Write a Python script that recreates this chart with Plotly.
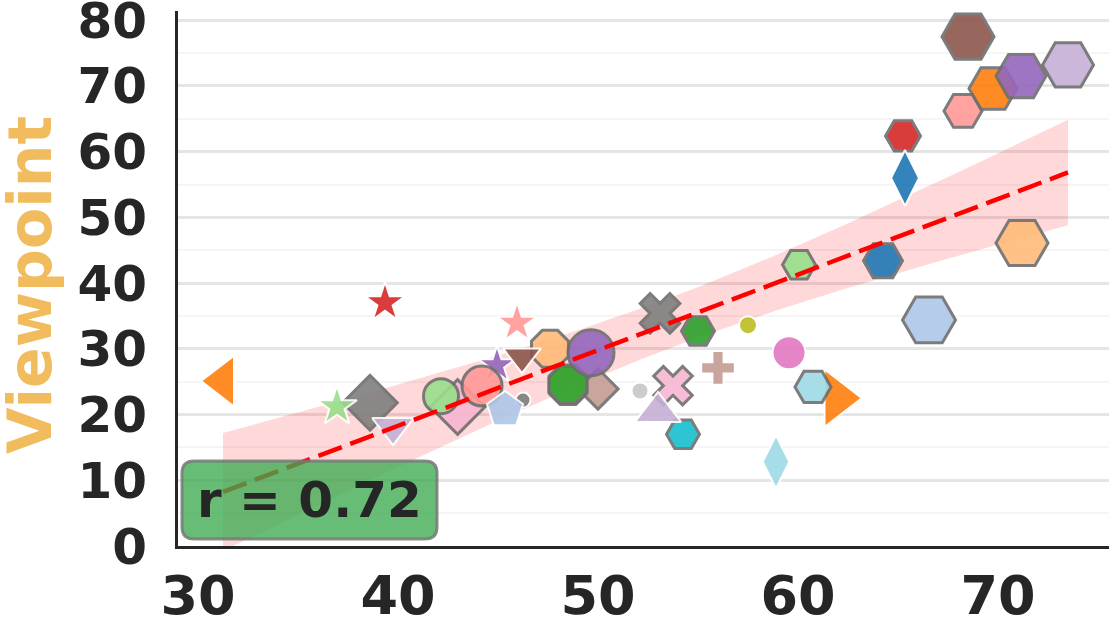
import numpy as np
import plotly.graph_objects as go

# ---- data ----
x_vals = [38.6, 36.95, 39.75, 39.35, 31.25, 42.98, 42.15, 44.95, 44.2, 46.25, 45.35,
          47.6, 46.2, 45.95, 50.0, 48.5, 48.5, 49.65, 52.1, 54.25, 53.75, 53.0,
          53.1, 55.0, 56.0, 57.5, 59.55, 58.9, 61.95, 60.75, 60.05, 64.25, 65.25,
          65.35, 66.55, 71.2, 68.25, 69.75, 71.15, 68.5, 73.5]
y_vals = [21.8, 21.2, 18.1, 37.0, 25.1, 21.15, 22.8, 27.5, 24.35, 22.2, 20.7,
          30.0, 28.8, 33.9, 23.9, 24.4, 24.65, 29.4, 23.6, 17.0, 24.4, 20.4,
          35.4, 32.7, 27.1, 33.6, 29.4, 12.8, 22.5, 24.2, 42.8, 43.4, 62.4,
          56.0, 34.4, 46.1, 66.2, 69.6, 71.5, 77.5, 73.2]
r_label = "r = 0.72"
x_ticks = [30, 40, 50, 60, 70]
y_ticks = [0, 10, 20, 30, 40, 50, 60, 70, 80]
y_title = "Viewpoint"

# ---- styles ----
colors = ["#7f7f7f", "#98df8a", "#c5b0d5", "#d62728", "#ff7f0e", "#f7b6d2", "#98df8a", "#9467bd",
          "#ff9896", "#7f7f7f", "#aec7e8", "#ffbb78", "#8c564b", "#ff9896", "#c49c94", "#dbdb8d",
          "#2ca02c", "#9467bd", "#c7c7c7", "#17becf", "#f7b6d2", "#c5b0d5", "#7f7f7f", "#2ca02c",
          "#c49c94", "#bcbd22", "#e377c2", "#9edae5", "#ff7f0e", "#9edae5", "#98df8a", "#1f77b4",
          "#d62728", "#1f77b4", "#aec7e8", "#ffbb78", "#ff9896", "#ff7f0e", "#9467bd", "#8c564b",
          "#c5b0d5"]
symbols = ["diamond", "star", "triangle-down", "star", "triangle-left", "diamond", "circle", "star",
           "circle", "circle", "pentagon", "octagon", "triangle-down", "star", "diamond", "octagon",
           "octagon", "circle", "circle", "hexagon2", "x", "triangle-up", "x", "hexagon2",
           "cross", "circle", "circle", "diamond-tall", "triangle-right", "hexagon2", "hexagon2", "hexagon2",
           "hexagon2", "diamond-tall", "hexagon2", "hexagon2", "hexagon2", "hexagon2", "hexagon2", "hexagon2",
           "hexagon2"]
sizes = [42, 30, 36, 30, 44, 42, 35, 28,
         40, 15, 38, 40, 33, 30, 31, 41,
         41, 46, 17, 33, 34, 40, 35, 33,
         28, 18, 33, 38, 50, 36, 33, 39,
         35, 40, 53, 52, 38, 48, 50, 52,
         51]
edge_gray = [1, 0, 0, 0, 0, 1, 1, 0,
             1, 0, 0, 1, 0, 0, 1, 1,
             1, 1, 0, 1, 1, 0, 1, 1,
             0, 0, 0, 0, 0, 1, 1, 1,
             1, 0, 1, 1, 1, 1, 1, 1,
             1]
line_colors = ["#6e6e6e" if g else "#ffffff" for g in edge_gray]
line_widths = [3 if g else 2 for g in edge_gray]

FONT = "DejaVu Sans"

# ---- regression + 95% CI computed from data ----
xa = np.array(x_vals)
ya = np.array(y_vals)
n = len(xa)
b1, b0 = np.polyfit(xa, ya, 1)
xs = np.linspace(xa.min(), xa.max(), 100)
yhat = b0 + b1 * xs
resid = ya - (b0 + b1 * xa)
s = np.sqrt(np.sum(resid ** 2) / (n - 2))
sxx = np.sum((xa - xa.mean()) ** 2)
se = s * np.sqrt(1.0 / n + (xs - xa.mean()) ** 2 / sxx)
tval = 2.023
upper = yhat + tval * se
lower = yhat - tval * se

fig = go.Figure()
fig.add_trace(go.Scatter(x=xs, y=upper, mode="lines", line=dict(width=0),
                         hoverinfo="skip", showlegend=False))
fig.add_trace(go.Scatter(x=xs, y=lower, mode="lines", line=dict(width=0),
                         fill="tonexty", fillcolor="rgba(255,0,0,0.15)",
                         hoverinfo="skip", showlegend=False))
fig.add_trace(go.Scatter(
    x=x_vals, y=y_vals, mode="markers", showlegend=False,
    marker=dict(color=colors, symbol=symbols, size=sizes, opacity=0.9,
                line=dict(color=line_colors, width=line_widths)),
))
fig.add_trace(go.Scatter(x=xs, y=yhat, mode="lines",
                         line=dict(color="#ff0000", width=4.5, dash="25px,9px"),
                         hoverinfo="skip", showlegend=False))

# ---- r box (rounded rectangle) ----
W_PLOT, H_PLOT = 931.0, 535.0
bx0, bx1, by0, by1 = 4 / W_PLOT, 259 / W_PLOT, 7 / H_PLOT, 85 / H_PLOT
rx, ry = 12 / W_PLOT, 12 / H_PLOT
path = (f"M {bx0+rx},{by0} L {bx1-rx},{by0} Q {bx1},{by0} {bx1},{by0+ry} "
        f"L {bx1},{by1-ry} Q {bx1},{by1} {bx1-rx},{by1} L {bx0+rx},{by1} "
        f"Q {bx0},{by1} {bx0},{by1-ry} L {bx0},{by0+ry} Q {bx0},{by0} {bx0+rx},{by0} Z")
fig.add_shape(type="path", path=path, xref="paper", yref="paper",
              fillcolor="rgba(60,170,80,0.78)", line=dict(color="rgba(120,120,120,0.85)", width=3),
              layer="above")
fig.add_annotation(x=(bx0 + bx1) / 2, y=(by0 + by1) / 2, xref="paper", yref="paper",
                   text=f"<b>{r_label}</b>", showarrow=False, xanchor="center", yanchor="middle",
                   font=dict(family=FONT, size=50, color="#262626"))

# ---- y-axis title as rotated annotation ----
fig.add_annotation(x=(30 - 178) / W_PLOT, y=(546 - 285) / H_PLOT, xref="paper", yref="paper",
                   text=f"<b>{y_title}</b>", showarrow=False, textangle=-90,
                   xanchor="center", yanchor="middle",
                   font=dict(family=FONT, size=60, color="#f0bc5e"))

fig.update_layout(
    width=1109, height=627,
    margin=dict(l=178, r=0, t=11, b=81, autoexpand=False),
    plot_bgcolor="white", paper_bgcolor="white",
    font=dict(family=FONT),
    xaxis=dict(range=[29, 75.55], tickvals=x_ticks, showgrid=False, zeroline=False,
               showline=True, linecolor="#262626", linewidth=3, ticks="",
               automargin=False, ticklabelstandoff=0, ticklabeloverflow="allow",
               tickfont=dict(family=FONT, size=54, color="#262626", weight="bold")),
    yaxis=dict(range=[0, 81.4], tickvals=y_ticks, showgrid=True, gridcolor="#e5e5e5", gridwidth=2.5,
               minor=dict(tickvals=[5, 15, 25, 35, 45, 55, 65, 75], showgrid=True,
                          gridcolor="#f5f5f5", gridwidth=2),
               zeroline=False, showline=True, linecolor="#262626", linewidth=3, ticks="",
               automargin=False, ticklabelstandoff=18, ticklabeloverflow="allow",
               tickfont=dict(family=FONT, size=50, color="#262626", weight="bold")),
)

fig.write_html("out.html")
